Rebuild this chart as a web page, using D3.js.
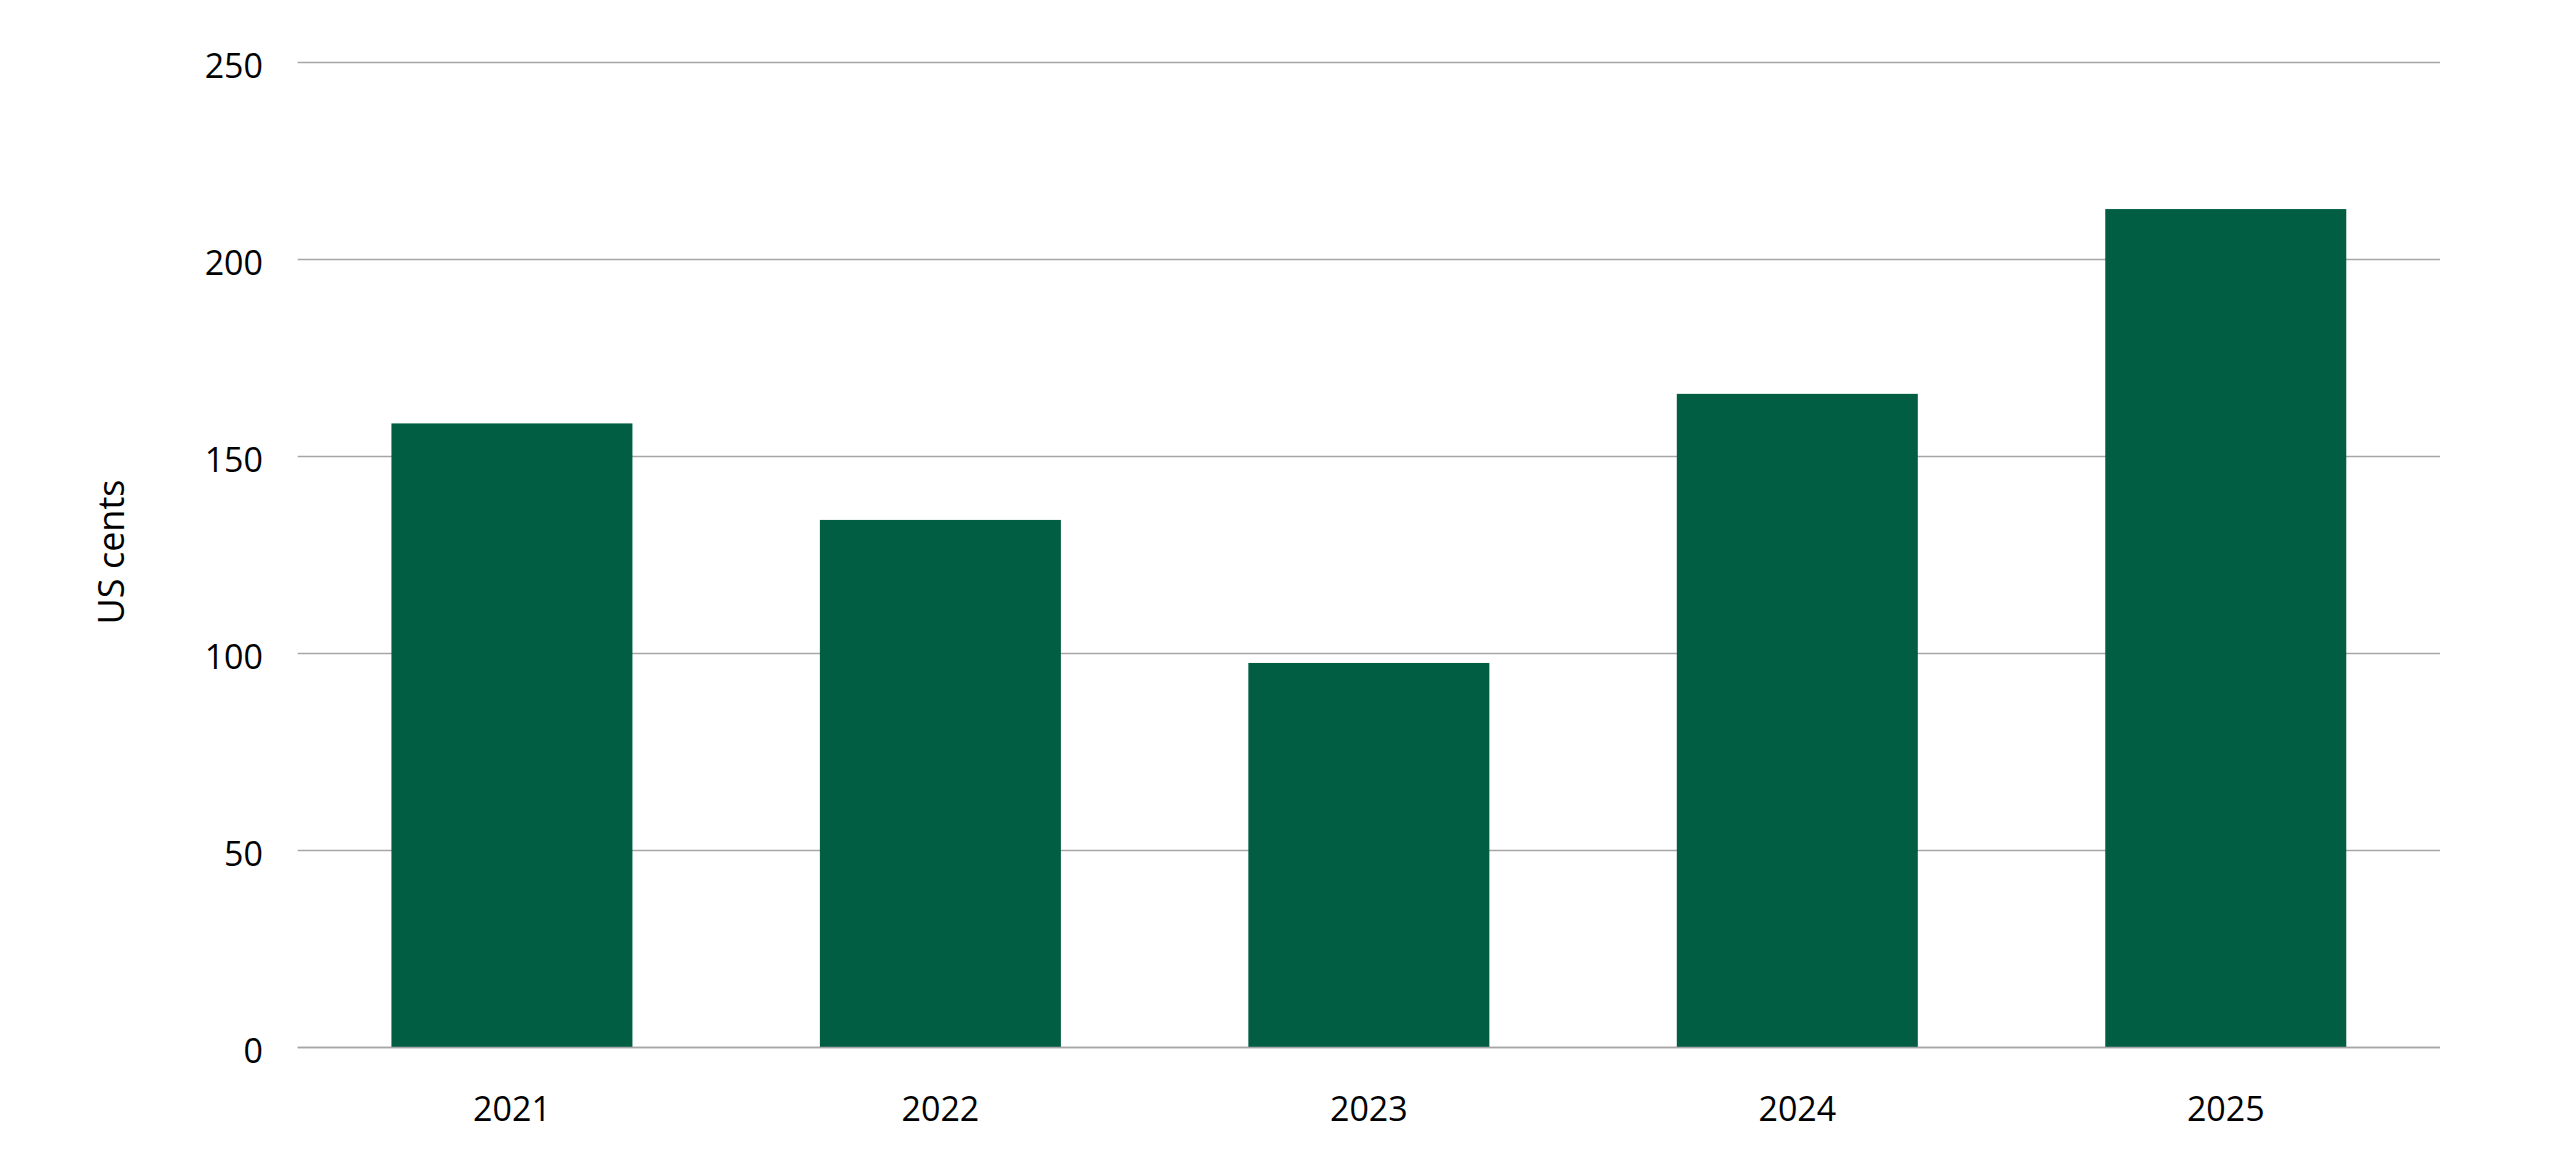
<!DOCTYPE html>
<html>
<head>
<meta charset="utf-8">
<script src="https://cdn.jsdelivr.net/npm/d3@7"></script>
<style>
  html, body { margin: 0; padding: 0; background: #ffffff; }
  svg { display: block; }
  text { font-family: "Open Sans", "Noto Sans", sans-serif; fill: #000; }
</style>
</head>
<body>
<script>
const categories = ["2021", "2022", "2023", "2024", "2025"];
const values = [158.4, 133.9, 97.6, 165.9, 212.8];
const yTicks = [0, 50, 100, 150, 200, 250];
const yAxisTitle = "US cents";

(function () {
const W = 2560, H = 1160;
const plotLeft = 297.7, plotRight = 2440, plotTop = 62.5, plotBottom = 1047.5;

const svg = d3.select("body").append("svg").attr("width", W).attr("height", H);

const x = d3.scaleBand().domain(categories).range([plotLeft, plotRight])
  .paddingInner(0.4375).paddingOuter(0.21875);
const y = d3.scaleLinear().domain([0, 250]).range([plotBottom, plotTop]);

// gridlines
svg.append("g").selectAll("line").data(yTicks).join("line")
  .attr("x1", plotLeft).attr("x2", plotRight)
  .attr("y1", d => y(d)).attr("y2", d => y(d))
  .attr("stroke", "#a6a6a6").attr("stroke-width", 1.5);

// bars
svg.append("g").selectAll("rect").data(values).join("rect")
  .attr("x", (d, i) => x(categories[i]))
  .attr("width", x.bandwidth())
  .attr("y", d => y(d))
  .attr("height", d => y(0) - y(d))
  .attr("fill", "#025e43");

// baseline on top
svg.append("line").attr("x1", plotLeft).attr("x2", plotRight)
  .attr("y1", y(0)).attr("y2", y(0))
  .attr("stroke", "#a6a6a6").attr("stroke-width", 1.5);

// y axis labels
const yAxis = d3.axisLeft(y).tickValues(yTicks).tickSize(0).tickPadding(0);
const gy = svg.append("g").attr("transform", "translate(263,0)").call(yAxis);
gy.select(".domain").remove();
gy.selectAll("text").attr("font-size", 34).attr("font-family", "Open Sans")
  .attr("fill", "#000").attr("dy", "0.36em").attr("y", 3);

// x axis labels
const xAxis = d3.axisBottom(x).tickSize(0).tickPadding(0);
const gx = svg.append("g").attr("transform", `translate(0,${plotBottom})`).call(xAxis);
gx.select(".domain").remove();
gx.selectAll("text").attr("font-size", 34).attr("font-family", "Open Sans")
  .attr("fill", "#000").attr("dy", "0").attr("y", 73);

// y axis title
svg.append("text")
  .attr("transform", "translate(124,552) rotate(-90)")
  .attr("text-anchor", "middle")
  .attr("font-size", 36)
  .text(yAxisTitle);
})();
</script>
</body>
</html>
